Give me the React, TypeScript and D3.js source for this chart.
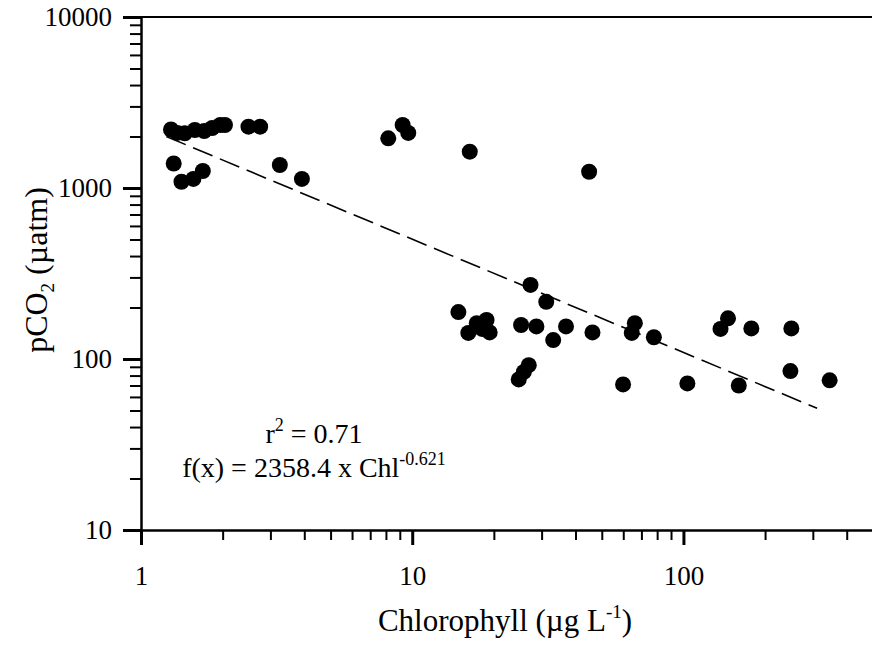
import { useEffect, useRef } from "react";
import * as d3 from "d3";

// chlorophyll (µg/L) and pCO2 (µatm)
const chl = [
  1.29, 1.36, 1.45, 1.58, 1.71, 1.83, 1.96, 2.04, 2.49, 2.75,
  1.32, 1.41, 1.56, 1.69, 3.25, 3.92,
  8.16, 9.22, 9.67, 16.3, 44.9,
  14.8, 16.1, 17.3, 18.1, 18.8, 19.3,
  27.3, 31.2, 25.2, 28.7, 33.1, 36.9, 46.2,
  24.7, 25.8, 26.9, 59.9, 66.2, 64.5, 77.8, 103.4,
  146, 137, 178, 250, 160, 248, 346,
];
const pco2 = [
  2198, 2099, 2089, 2184, 2154, 2244, 2336, 2336, 2283, 2283,
  1391, 1088, 1130, 1257, 1363, 1130,
  1953, 2336, 2099, 1630, 1245,
  188, 142, 162, 150, 169, 143,
  271, 216, 158, 155, 129, 155, 143,
  76, 84, 92, 71, 162, 142, 134, 72,
  173, 150, 151, 151, 70, 85, 75,
];

// dashed fit line end points
const fitX = [1.24, 311];
const fitY = [2000, 51.5];

const xMajor = [1, 10, 100];
const xMinor = [2, 3, 4, 5, 6, 7, 8, 9, 20, 30, 40, 50, 60, 70, 80, 90, 200, 300, 400];
const yMajor = [10, 100, 1000, 10000];
const yMinor = [20, 30, 40, 50, 60, 70, 80, 90, 200, 300, 400, 500, 600, 700, 800, 900,
  2000, 3000, 4000, 5000, 6000, 7000, 8000, 9000];

const font = "'Liberation Serif', 'Times New Roman', serif";

export default function App() {
  const svgRef = useRef(null);

  useEffect(() => {
    const svg = d3.select(svgRef.current);
    svg.selectAll("*").remove();

    const x = d3.scaleLog().domain([1, 500]).range([141, 873]);
    const y = d3.scaleLog().domain([10, 10000]).range([530, 17]);

    // frame top/right
    svg.append("path")
      .attr("d", `M${x(1)},${y(10000)}H${x(500)}V${y(10)}`)
      .attr("fill", "none")
      .attr("stroke", "#000")
      .attr("stroke-width", 2);

    // minor ticks
    const yMin = svg.append("g")
      .attr("transform", `translate(${x(1)},0)`)
      .call(d3.axisLeft(y).tickValues(yMinor).tickSize(11).tickSizeOuter(0).tickFormat(() => ""));
    yMin.select(".domain").remove();
    yMin.selectAll("line").attr("stroke-width", 2);

    const xMin = svg.append("g")
      .attr("transform", `translate(0,${y(10)})`)
      .call(d3.axisBottom(x).tickValues(xMinor).tickSize(10).tickSizeOuter(0).tickFormat(() => ""));
    xMin.select(".domain").remove();
    xMin.selectAll("line").attr("stroke-width", 2);

    // major ticks + labels
    const yAx = svg.append("g")
      .attr("transform", `translate(${x(1)},0)`)
      .call(d3.axisLeft(y).tickValues(yMajor).tickSize(18).tickSizeOuter(0).tickPadding(11).tickFormat(d3.format("d")));
    yAx.select(".domain").attr("stroke-width", 2.5);
    yAx.selectAll("line").attr("stroke-width", 3);
    yAx.selectAll("text").attr("font-family", font).attr("font-size", 27).attr("fill", "#000");

    const xAx = svg.append("g")
      .attr("transform", `translate(0,${y(10)})`)
      .call(d3.axisBottom(x).tickValues(xMajor).tickSize(15).tickSizeOuter(0).tickPadding(21).tickFormat(d3.format("d")));
    xAx.select(".domain").attr("stroke-width", 2.5);
    xAx.selectAll("line").attr("stroke-width", 3);
    xAx.selectAll("text").attr("font-family", font).attr("font-size", 27).attr("fill", "#000");

    // fit line
    const line = d3.line<number>()
      .x((d, i) => x(fitX[i]))
      .y((d) => y(d));
    svg.append("path")
      .datum(fitY)
      .attr("d", line)
      .attr("fill", "none")
      .attr("stroke", "#000")
      .attr("stroke-width", 1.6)
      .attr("stroke-dasharray", "21,8");

    // points
    svg.append("g")
      .selectAll("circle")
      .data(chl)
      .enter()
      .append("circle")
      .attr("cx", (d) => x(d))
      .attr("cy", (d, i) => y(pco2[i]))
      .attr("r", 8)
      .attr("fill", "#000");

    // annotation
    const r2 = svg.append("text")
      .attr("x", 314).attr("y", 443)
      .attr("text-anchor", "middle")
      .attr("font-family", font).attr("font-size", 28);
    r2.append("tspan").text("r");
    r2.append("tspan").attr("dy", -12).attr("font-size", 18).text("2");
    r2.append("tspan").attr("dy", 12).text(" = 0.71");

    const fx = svg.append("text")
      .attr("x", 314).attr("y", 477)
      .attr("text-anchor", "middle")
      .attr("font-family", font).attr("font-size", 28);
    fx.append("tspan").text("f(x) = 2358.4 x Chl");
    fx.append("tspan").attr("dy", -12).attr("font-size", 18).text("-0.621");

    // axis titles
    const xt = svg.append("text")
      .attr("x", 505).attr("y", 631)
      .attr("text-anchor", "middle")
      .attr("font-family", font).attr("font-size", 31);
    xt.append("tspan").text("Chlorophyll (\u00b5g L");
    xt.append("tspan").attr("dy", -13).attr("font-size", 19).text("-1");
    xt.append("tspan").attr("dy", 13).text(")");

    const yt = svg.append("text")
      .attr("transform", "translate(47,270) rotate(-90)")
      .attr("text-anchor", "middle")
      .attr("font-family", font).attr("font-size", 32);
    yt.append("tspan").text("pCO");
    yt.append("tspan").attr("dy", 7).attr("font-size", 19).text("2");
    yt.append("tspan").attr("dy", -7).text(" (\u00b5atm)");
  }, []);

  return (
    <svg
      ref={svgRef}
      width={872}
      height={647}
      style={{ position: "absolute", left: 0, top: 0, background: "#fff" }}
    />
  );
}
